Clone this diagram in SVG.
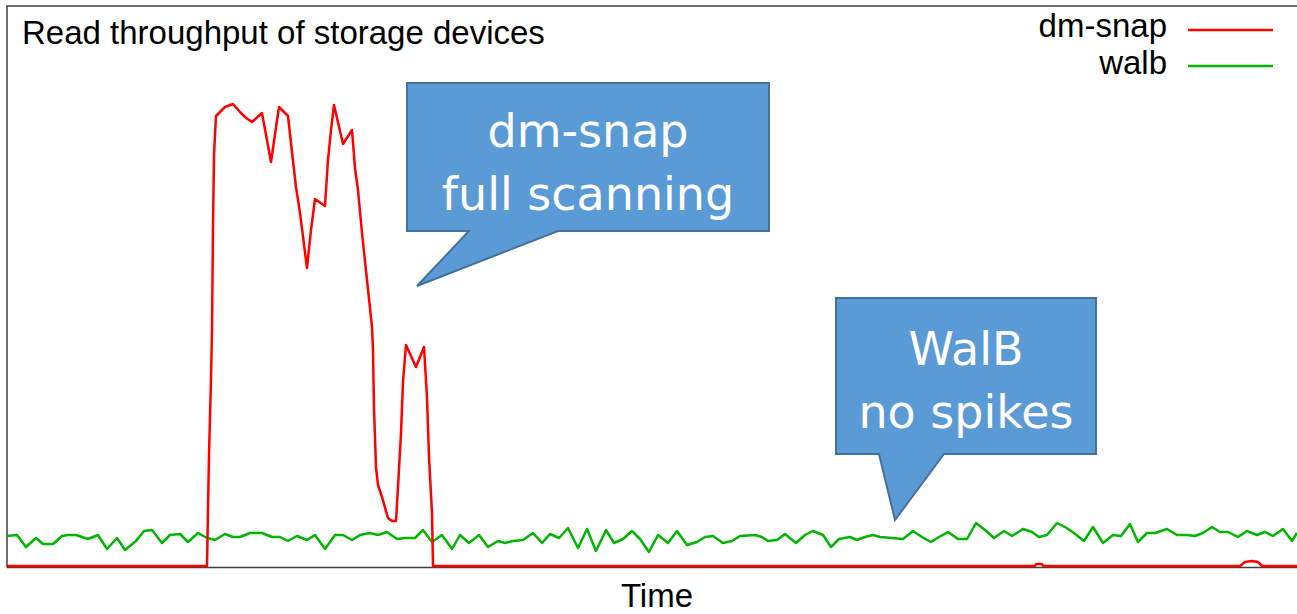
<svg xmlns="http://www.w3.org/2000/svg" width="1297" height="614" viewBox="0 0 1297 614">
<style>
.lbl{font-family:"Liberation Sans",Arial,sans-serif;font-size:33px;fill:#000}
.cl{font-family:"DejaVu Sans",Verdana,sans-serif;font-size:46px;fill:#fff;text-anchor:middle}
.callout{fill:#5B9BD5;stroke:#41719C;stroke-width:2;stroke-linejoin:miter}
.frame{fill:none;stroke:#404040;stroke-width:1.5}
.red{fill:none;stroke:#ff0000;stroke-width:2.5;stroke-linejoin:round}
.green{fill:none;stroke:#00b400;stroke-width:2.5;stroke-linejoin:round}
</style>
<rect width="1297" height="614" fill="#fff"/>
<g id="frame">
<path class="frame" d="M7,567.5 V6 H1297 M7,567.5 H1297"/>
</g>
<g id="title"><text class="lbl" x="22" y="44">Read throughput of storage devices</text></g>
<g id="legend">
<text class="lbl" x="1167" y="37" text-anchor="end">dm-snap</text>
<line x1="1188" y1="30" x2="1273" y2="30" stroke="#ff0000" stroke-width="2.5"/>
<text class="lbl" x="1167" y="74" text-anchor="end">walb</text>
<line x1="1188" y1="66" x2="1273" y2="66" stroke="#00b400" stroke-width="2.5"/>
</g>
<g id="axis-label"><text class="lbl" x="657" y="607" text-anchor="middle" font-size="31">Time</text></g>
<g id="connectors">
<path id="series-walb" class="green" d="M7,536 L17,535 L20,539 L26,547 L36,538 L43,544 L53,544 L62,536 L68,535 L76,535 L82,537 L88,539 L98,535 L107,549 L117,538 L125,550 L136,541 L144,531 L152,530 L162,543 L170,535 L180,534 L188,542 L198,533 L207,538 L215,540 L225,534 L233,537 L240,537 L250,533 L262,533 L272,537 L280,537 L288,541 L297,536 L307,540 L315,535 L325,549 L335,535 L343,535 L352,540 L360,535 L370,533 L378,535 L387,532 L397,539 L405,538 L415,538 L423,530 L432,542 L442,535 L452,549 L460,535 L469,543 L479,535 L488,547 L498,541 L505,543 L513,541 L523,540 L533,533 L542,543 L550,534 L559,538 L568,528 L578,548 L587,529 L596,551 L606,530 L614,543 L623,539 L632,531 L640,539 L649,552 L658,535 L668,543 L677,531 L687,545 L697,542 L705,537 L713,536 L723,543 L732,541 L740,536 L755,535 L762,537 L768,541 L777,540 L785,534 L796,543 L805,535 L813,531 L823,535 L831,547 L839,539 L850,537 L857,540 L865,537 L873,535 L880,537 L892,538 L903,539 L913,531 L922,537 L931,542 L939,537 L948,532 L958,539 L967,539 L976,523 L985,530 L994,538 L1004,531 L1012,536 L1023,529 L1032,532 L1039,537 L1047,535 L1057,523 L1065,527 L1074,533 L1084,541 L1093,527 L1103,543 L1113,535 L1121,536 L1130,524 L1138,542 L1147,533 L1155,533 L1167,529 L1177,535 L1187,535 L1195,536 L1203,533 L1212,527 L1220,532 L1228,532 L1238,537 L1247,531 L1257,535 L1265,532 L1273,536 L1283,529 L1292,541 L1297,533"/>
<path id="series-dmsnap" class="red" d="M7,566 L207,566 L209,455 L211,379 L212,330 L213,228 L214,155 L216,116 L220,112 L225,107 L233,104 L240,112 L245,117 L252,122 L262,113 L271,162 L279,107 L288,116 L292,152 L296,187 L300,213 L307,268 L311,230 L315,199 L325,206 L328,160 L331,130 L334,105 L343,144 L352,130 L355,168 L358,190 L362,233 L367,280 L372,327 L373,350 L374,408 L376,467 L378,485 L382,497 L388,518 L392,521 L396,521 L398,487 L401,433 L403,382 L406,345 L416,367 L424,347 L427,397 L429,457 L432,513 L433,566 L1035,566 L1036,564 L1042,564 L1043,566 L1240,566 L1245,562 L1252,561 L1258,562 L1262,566 L1297,566"/>
</g>
<g id="callout-dmsnap">
<path class="callout" d="M407,83 H769 V231 H558 L417,286 L469,231 H407 Z"/>
<text class="cl" x="588" y="147">dm-snap</text>
<text class="cl" x="588" y="210">full scanning</text>
</g>
<g id="callout-walb">
<path class="callout" d="M836,298 H1096 V454 H944 L895,520 L879,454 H836 Z"/>
<text class="cl" x="966" y="365">WalB</text>
<text class="cl" x="966" y="428">no spikes</text>
</g>
</svg>
